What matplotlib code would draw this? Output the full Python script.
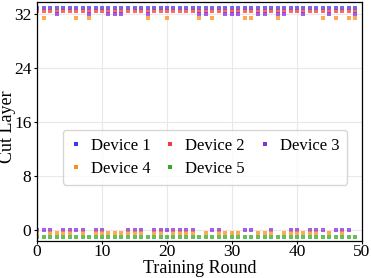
import matplotlib
matplotlib.use("Agg")
import matplotlib.pyplot as plt
import numpy as np

rounds = list(range(50))
device_names = ["Device 1", "Device 2", "Device 3", "Device 4", "Device 5"]
colors = ["#3a3af5", "#f53a3a", "#8a2be2", "#ff8c1a", "#33aa22"]
display_offsets = [1.0, 0.5, 0.0, -0.5, -1.0]

device1 = [32] * 50
device2 = [32] * 50
dev3_top = [3, 8, 11, 12, 13, 17, 25, 26, 29, 30, 31, 34, 35, 37, 38, 41, 45, 49]
dev4_top = [1, 6, 8, 17, 20, 25, 27, 32, 33, 37, 44, 46, 48, 49]
device3 = [32 if r in dev3_top else 0 for r in rounds]
device4 = [32 if r in dev4_top else 0 for r in rounds]
device5 = [0] * 50
series = [device1, device2, device3, device4, device5]

plt.rcParams["font.family"] = ["Liberation Serif", "DejaVu Serif"]
fig = plt.figure(figsize=(3.71, 2.78), dpi=100)
ax = fig.add_axes([37 / 371, 1 - 241 / 278, (362 - 37) / 371, (241 - 2) / 278])

handles = []
for vals, name, c, off in zip(series, device_names, colors, display_offsets):
    h, = ax.plot(rounds, np.array(vals) + off, linestyle="none", marker="s",
                 markersize=3.2, color=c, alpha=0.75, markeredgewidth=0,
                 label=name)
    handles.append(h)

ax.set_xlim(0, 50)
ax.set_ylim(-1.65, 33.85)
ax.set_xticks([0, 10, 20, 30, 40, 50])
ax.set_yticks([0, 8, 16, 24, 32])
ax.tick_params(labelsize=12.5, length=2.5, width=0.8, direction="out")
ax.tick_params(axis="x", pad=0.0)
ax.tick_params(axis="y", pad=1.5)
ax.grid(True, color="#e8e8e8", linewidth=0.8)
ax.set_axisbelow(True)
ax.set_xlabel("Training Round", fontsize=13)
ax.set_ylabel("Cut Layer", fontsize=13)
ax.xaxis.set_label_coords(0.5, -0.081)
ax.yaxis.set_label_coords(-0.066, 0.48)
for s in ax.spines.values():
    s.set_linewidth(0.9)

order = [0, 3, 1, 4, 2]
leg = ax.legend([handles[i] for i in order], [device_names[i] for i in order],
                ncol=3, loc="center", bbox_to_anchor=(0.517, 0.35),
                fontsize=12, handlelength=0.6, handletextpad=0.6,
                columnspacing=0.9, borderpad=0.45, labelspacing=0.45,
                frameon=True, fancybox=True, edgecolor="#cccccc")
for h in leg.legend_handles:
    h.set_alpha(1)

fig.savefig("out.png", dpi=100)
